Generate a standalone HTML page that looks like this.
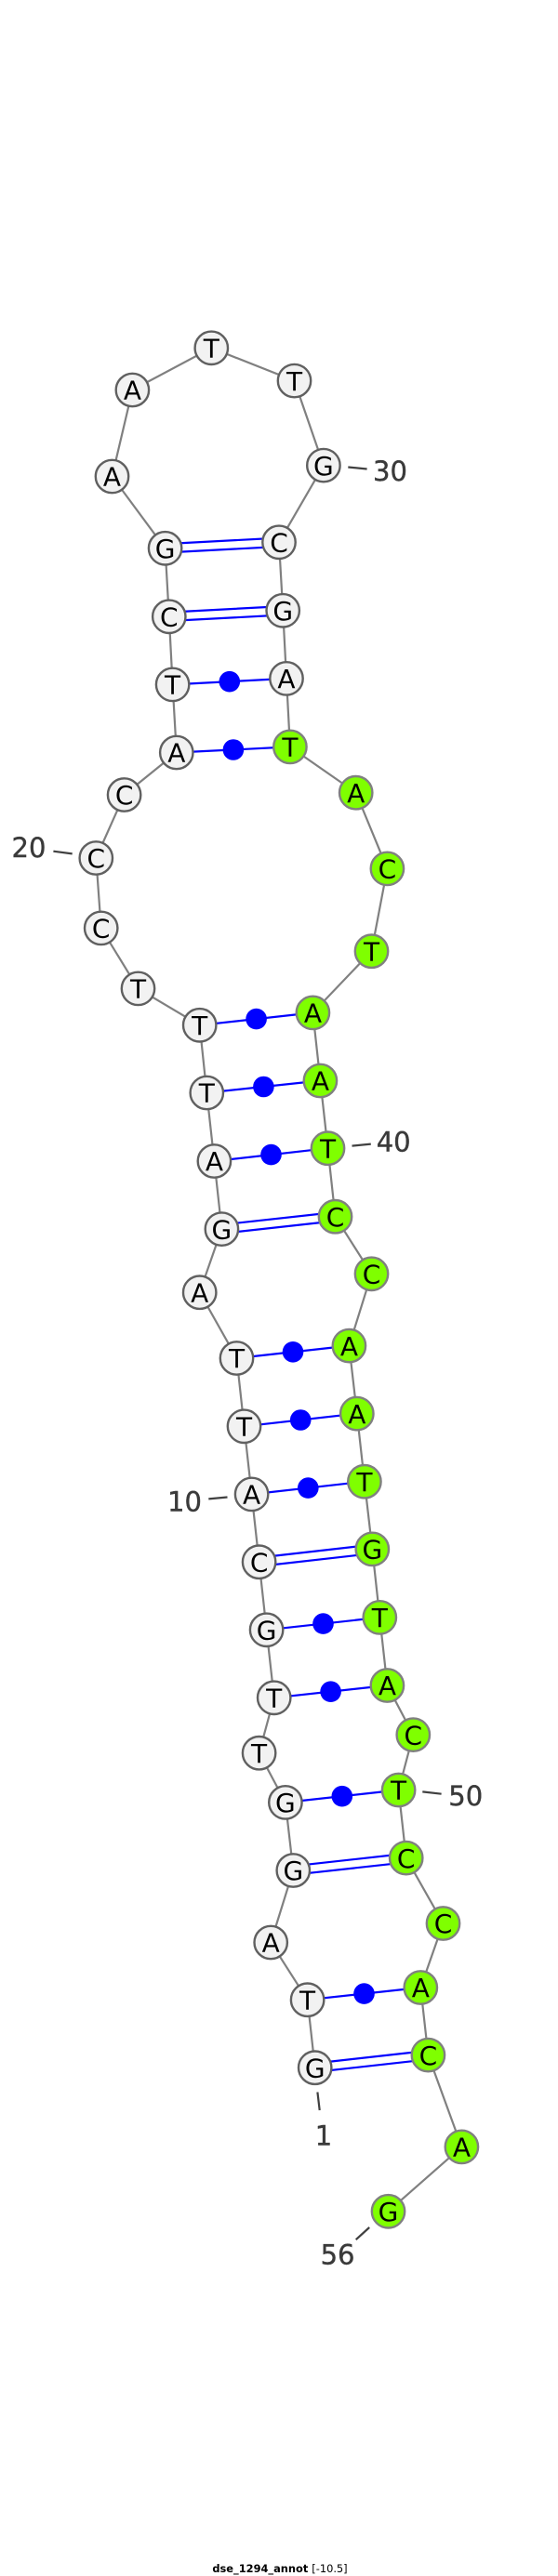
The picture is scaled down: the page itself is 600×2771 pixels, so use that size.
<!DOCTYPE html>
<html><head><meta charset="utf-8"><style>html,body{margin:0;padding:0;background:#fff}svg{display:block}
.n text,text.l{font-family:"DejaVu Sans",sans-serif}
</style></head><body>
<svg xmlns="http://www.w3.org/2000/svg" width="600" height="2771" viewBox="0 0 600 2771">
<rect width="600" height="2771" fill="#fff"/>
<polyline fill="none" stroke="#808080" stroke-width="2.2" points="338.7,2224.2 330.6,2151.2 291.2,2089.5 315.3,2012 306.9,1938.9 278.6,1885.7 294.7,1826.3 286.6,1753.3 278.6,1680.2 270.6,1607.4 262.5,1534.3 254.5,1461 214.7,1390.2 238.4,1322.1 230.4,1249 222.3,1175.5 214.7,1102.8 148.5,1063.4 108.7,998.4 103.3,923 133.6,855 189.8,809.5 185.6,736.4 181.8,663.3 177.6,589.8 120.5,512.5 142.4,419.5 227.3,374.3 316.5,409.6 347.9,500.6 300,583.3 304.2,656.8 308,729.9 311.9,803.4 382.7,852.7 416.4,934.4 399.5,1023.2 336.4,1089.4 344.4,1162.5 352.5,1235.2 360.5,1308.7 399.5,1370.3 375.4,1447.6 383.8,1520.6 391.9,1593.7 400.3,1666.4 408.3,1739.9 416.4,1813 444.3,1866.1 428.6,1925.5 436.7,1998.6 476.5,2069 452.3,2138 460.4,2210.6 496.4,2309.4 417.5,2378.8"/>
<g stroke="#0000ff" stroke-width="2.2" fill="none">
<path d="M177.6 585.1L300 578.6M177.6 594.5L300 588"/>
<path d="M181.8 658.6L304.2 652.1M181.8 668L304.2 661.5"/>
<path d="M185.6 736.4L308 729.9M189.8 809.5L311.9 803.4M214.7 1102.8L336.4 1089.4M222.3 1175.5L344.4 1162.5M230.4 1249L352.5 1235.2"/>
<path d="M238.4 1317.4L360.5 1304M238.4 1326.8L360.5 1313.4"/>
<path d="M254.5 1461L375.4 1447.6M262.5 1534.3L383.8 1520.6M270.6 1607.4L391.9 1593.7"/>
<path d="M278.6 1675.5L400.3 1661.7M278.6 1684.9L400.3 1671.1"/>
<path d="M286.6 1753.3L408.3 1739.9M294.7 1826.3L416.4 1813M306.9 1938.9L428.6 1925.5"/>
<path d="M315.3 2007.3L436.7 1993.9M315.3 2016.7L436.7 2003.3"/>
<path d="M330.6 2151.2L452.3 2138"/>
<path d="M338.7 2219.5L460.4 2205.9M338.7 2228.9L460.4 2215.3"/>
</g>
<g fill="#0000ff">
<circle cx="246.8" cy="733.2" r="11.3"/><circle cx="250.9" cy="806.5" r="11.3"/><circle cx="275.6" cy="1096.1" r="11.3"/><circle cx="283.4" cy="1169" r="11.3"/><circle cx="291.5" cy="1242.1" r="11.3"/><circle cx="315" cy="1454.3" r="11.3"/><circle cx="323.2" cy="1527.5" r="11.3"/><circle cx="331.3" cy="1600.6" r="11.3"/><circle cx="347.5" cy="1746.6" r="11.3"/><circle cx="355.6" cy="1819.7" r="11.3"/><circle cx="367.8" cy="1932.2" r="11.3"/><circle cx="391.5" cy="2144.6" r="11.3"/>
</g>
<g stroke="#404040" stroke-width="2.2" fill="none">
<path d="M374.3 502.5L394.6 504.5M57.4 915.7L77.7 918.4M378.5 1232.6L398.8 1230.6M224.3 1612.4L244.5 1610.5M454.3 1927.4L474.6 1929.7M341.4 2250.5L343.7 2270M397.2 2396L382.7 2409.2"/>
</g>
<g stroke="#606060" stroke-width="2.4" fill="#f2f2f2">
<circle cx="338.7" cy="2224.2" r="17.7"/><circle cx="330.6" cy="2151.2" r="17.7"/><circle cx="291.2" cy="2089.5" r="17.7"/><circle cx="315.3" cy="2012" r="17.7"/><circle cx="306.9" cy="1938.9" r="17.7"/><circle cx="278.6" cy="1885.7" r="17.7"/><circle cx="294.7" cy="1826.3" r="17.7"/><circle cx="286.6" cy="1753.3" r="17.7"/><circle cx="278.6" cy="1680.2" r="17.7"/><circle cx="270.6" cy="1607.4" r="17.7"/><circle cx="262.5" cy="1534.3" r="17.7"/><circle cx="254.5" cy="1461" r="17.7"/><circle cx="214.7" cy="1390.2" r="17.7"/><circle cx="238.4" cy="1322.1" r="17.7"/><circle cx="230.4" cy="1249" r="17.7"/><circle cx="222.3" cy="1175.5" r="17.7"/><circle cx="214.7" cy="1102.8" r="17.7"/><circle cx="148.5" cy="1063.4" r="17.7"/><circle cx="108.7" cy="998.4" r="17.7"/><circle cx="103.3" cy="923" r="17.7"/><circle cx="133.6" cy="855" r="17.7"/><circle cx="189.8" cy="809.5" r="17.7"/><circle cx="185.6" cy="736.4" r="17.7"/><circle cx="181.8" cy="663.3" r="17.7"/><circle cx="177.6" cy="589.8" r="17.7"/><circle cx="120.5" cy="512.5" r="17.7"/><circle cx="142.4" cy="419.5" r="17.7"/><circle cx="227.3" cy="374.3" r="17.7"/><circle cx="316.5" cy="409.6" r="17.7"/><circle cx="347.9" cy="500.6" r="17.7"/><circle cx="300" cy="583.3" r="17.7"/><circle cx="304.2" cy="656.8" r="17.7"/><circle cx="308" cy="729.9" r="17.7"/>
</g>
<g stroke="#808080" stroke-width="2.4" fill="#7fff00">
<circle cx="311.9" cy="803.4" r="17.7"/><circle cx="382.7" cy="852.7" r="17.7"/><circle cx="416.4" cy="934.4" r="17.7"/><circle cx="399.5" cy="1023.2" r="17.7"/><circle cx="336.4" cy="1089.4" r="17.7"/><circle cx="344.4" cy="1162.5" r="17.7"/><circle cx="352.5" cy="1235.2" r="17.7"/><circle cx="360.5" cy="1308.7" r="17.7"/><circle cx="399.5" cy="1370.3" r="17.7"/><circle cx="375.4" cy="1447.6" r="17.7"/><circle cx="383.8" cy="1520.6" r="17.7"/><circle cx="391.9" cy="1593.7" r="17.7"/><circle cx="400.3" cy="1666.4" r="17.7"/><circle cx="408.3" cy="1739.9" r="17.7"/><circle cx="416.4" cy="1813" r="17.7"/><circle cx="444.3" cy="1866.1" r="17.7"/><circle cx="428.6" cy="1925.5" r="17.7"/><circle cx="436.7" cy="1998.6" r="17.7"/><circle cx="476.5" cy="2069" r="17.7"/><circle cx="452.3" cy="2138" r="17.7"/><circle cx="460.4" cy="2210.6" r="17.7"/><circle cx="496.4" cy="2309.4" r="17.7"/><circle cx="417.5" cy="2378.8" r="17.7"/>
</g>
<g class="n" font-size="28" text-anchor="middle" fill="#000" transform="translate(0,10.2)">
<text x="338.7" y="2224.2">G</text><text x="330.6" y="2151.2">T</text><text x="291.2" y="2089.5">A</text><text x="315.3" y="2012">G</text><text x="306.9" y="1938.9">G</text><text x="278.6" y="1885.7">T</text><text x="294.7" y="1826.3">T</text><text x="286.6" y="1753.3">G</text><text x="278.6" y="1680.2">C</text><text x="270.6" y="1607.4">A</text><text x="262.5" y="1534.3">T</text><text x="254.5" y="1461">T</text><text x="214.7" y="1390.2">A</text><text x="238.4" y="1322.1">G</text><text x="230.4" y="1249">A</text><text x="222.3" y="1175.5">T</text><text x="214.7" y="1102.8">T</text><text x="148.5" y="1063.4">T</text><text x="108.7" y="998.4">C</text><text x="103.3" y="923">C</text><text x="133.6" y="855">C</text><text x="189.8" y="809.5">A</text><text x="185.6" y="736.4">T</text><text x="181.8" y="663.3">C</text><text x="177.6" y="589.8">G</text><text x="120.5" y="512.5">A</text><text x="142.4" y="419.5">A</text><text x="227.3" y="374.3">T</text><text x="316.5" y="409.6">T</text><text x="347.9" y="500.6">G</text><text x="300" y="583.3">C</text><text x="304.2" y="656.8">G</text><text x="308" y="729.9">A</text><text x="311.9" y="803.4">T</text><text x="382.7" y="852.7">A</text><text x="416.4" y="934.4">C</text><text x="399.5" y="1023.2">T</text><text x="336.4" y="1089.4">A</text><text x="344.4" y="1162.5">A</text><text x="352.5" y="1235.2">T</text><text x="360.5" y="1308.7">C</text><text x="399.5" y="1370.3">C</text><text x="375.4" y="1447.6">A</text><text x="383.8" y="1520.6">A</text><text x="391.9" y="1593.7">T</text><text x="400.3" y="1666.4">G</text><text x="408.3" y="1739.9">T</text><text x="416.4" y="1813">A</text><text x="444.3" y="1866.1">C</text><text x="428.6" y="1925.5">T</text><text x="436.7" y="1998.6">C</text><text x="476.5" y="2069">C</text><text x="452.3" y="2138">A</text><text x="460.4" y="2210.6">C</text><text x="496.4" y="2309.4">A</text><text x="417.5" y="2378.8">G</text>
</g>
<g class="n" font-size="29" fill="#3a3a3a" stroke="#3a3a3a" stroke-width="0.4" text-anchor="start">
<text x="401" y="517">30</text><text x="12.5" y="922">20</text><text x="404.7" y="1238.3">40</text><text x="180" y="1625.4">10</text><text x="482.3" y="1942">50</text><text x="338.8" y="2307.6">1</text><text x="344.6" y="2435.5">56</text>
</g>
<text class="l" x="301" y="2767" font-size="11.4" font-weight="bold" text-anchor="middle" fill="#000">dse_1294_annot <tspan font-weight="normal">[-10.5]</tspan></text>
</svg>
</body></html>
